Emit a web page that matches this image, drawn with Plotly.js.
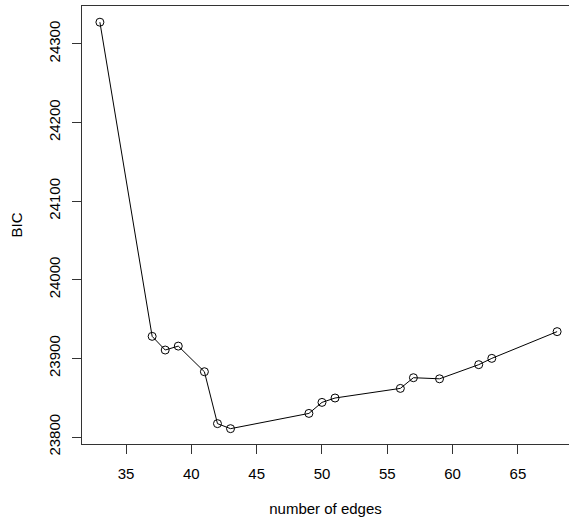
<!DOCTYPE html>
<html>
<head>
<meta charset="utf-8">
<script src="https://cdn.plot.ly/plotly-3.0.1.min.js"></script>
<style>html,body{margin:0;padding:0;background:#fff;}#chart{width:569px;height:523px;}</style>
</head>
<body>
<div id="chart"></div>
<script>
const edges = [33, 37, 38, 39, 41, 42, 43, 49, 50, 51, 56, 57, 59, 62, 63, 68];
const bic = [24327.5, 23928, 23910.6, 23915.6, 23883, 23817, 23810.6, 23830, 23844, 23849.6, 23861.8, 23875.4, 23874, 23892, 23900, 23934];
const xTicks = [35, 40, 45, 50, 55, 60, 65];
const yTicks = [23800, 23900, 24000, 24100, 24200, 24300];

const trace = {
  x: edges, y: bic, type: 'scatter', mode: 'lines+markers',
  line: {color: '#000', width: 1},
  marker: {symbol: 'circle-open', size: 8, color: '#000', line: {width: 1, color: '#000'}},
  hoverinfo: 'none'
};
const font = {family: 'Liberation Sans, Arial, sans-serif', size: 15, color: '#000'};
const layout = {
  width: 569, height: 523,
  margin: {l: 82, r: 0, t: 6, b: 79},
  paper_bgcolor: '#fff', plot_bgcolor: '#fff',
  showlegend: false,
  font: font,
  xaxis: {
    range: [31.63, 68.91], tickvals: xTicks, ticktext: xTicks.map(String),
    showgrid: false, zeroline: false, showline: true, mirror: true,
    linecolor: '#333', linewidth: 1, ticks: 'outside', ticklen: 9, tickcolor: '#333',
    tickfont: font, ticklabelstandoff: 7,
    title: {text: 'number of edges', font: font, standoff: 22}
  },
  yaxis: {
    range: [23791.1, 24348.1], tickvals: yTicks, ticktext: yTicks.map(String),
    showgrid: false, zeroline: false, showline: true, mirror: false,
    linecolor: '#333', linewidth: 1, ticks: 'outside', ticklen: 9, tickcolor: '#333',
    tickangle: -90, tickfont: font, ticklabelstandoff: 6,
    title: {text: 'BIC', font: font, standoff: 19}
  }
};
Plotly.newPlot('chart', [trace], layout, {displayModeBar: false, staticPlot: true});
</script>
</body>
</html>
